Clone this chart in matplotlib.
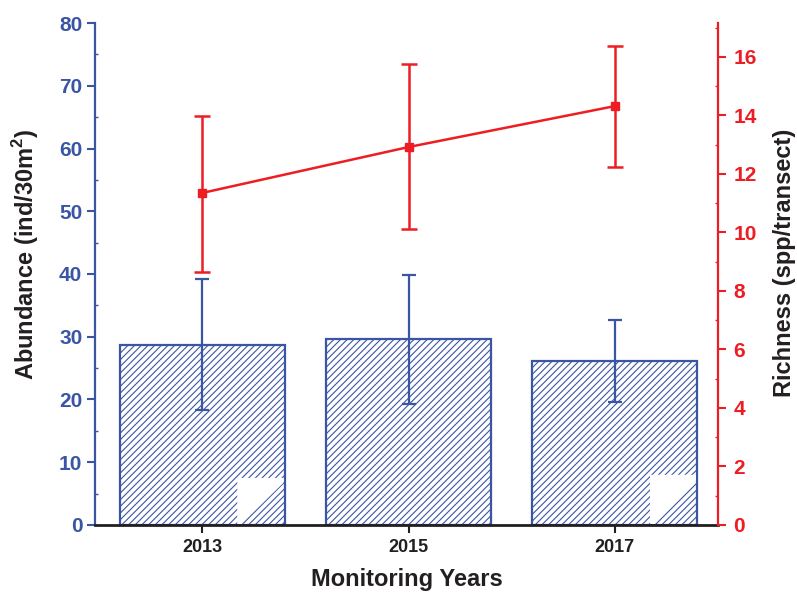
import matplotlib
matplotlib.use("Agg")
import matplotlib.pyplot as plt
from matplotlib.ticker import MultipleLocator
from matplotlib.patches import Polygon

plt.rcParams['font.family'] = ['Liberation Sans', 'DejaVu Sans']
plt.rcParams['font.weight'] = 'bold'
plt.rcParams['mathtext.fontset'] = 'custom'
plt.rcParams['mathtext.bf'] = 'Liberation Sans:bold'
plt.rcParams['mathtext.rm'] = 'Liberation Sans:bold'
plt.rcParams['hatch.linewidth'] = 0.8

years = ['2013', '2015', '2017']
abundance = [28.7, 29.6, 26.1]
abundance_err_up = [10.5, 10.2, 6.6]
abundance_err_down = [10.4, 10.3, 6.5]
richness = [11.35, 12.92, 14.32]
richness_err_up = [2.63, 2.84, 2.06]
richness_err_down = [2.70, 2.80, 2.08]

BLUE = '#3A55A4'
RED = '#EE1D23'
DARK = '#231F20'

fig = plt.figure(figsize=(7.97, 5.93), dpi=100)
ax = fig.add_axes([0.119, 0.1147, 0.782, 0.8465])
x = list(range(len(years)))

ax.bar(x, abundance, width=0.8, facecolor='white', edgecolor=BLUE,
       linewidth=1.6, hatch='/////', zorder=2)
ax.errorbar(x, abundance, yerr=[abundance_err_down, abundance_err_up], fmt='none',
            ecolor=BLUE, elinewidth=1.6, capsize=5, capthick=1.6, zorder=3)

# white patches covering the lower-right corner of the first and last bars
for xi, top in [(0, 7.5), (2, 8.0)]:
    x0, x1 = xi + 0.17, xi + 0.393
    ax.add_patch(Polygon([(x0, 0.2), (x0, top), (x1, top), (x1, top - 0.8),
                          (x0 + 0.02, 0.2)],
                         closed=True, facecolor='white', edgecolor='none',
                         zorder=2.5))

ax.set_xlim(-0.52, 2.5)
ax.set_ylim(0, 80)
ax.set_xticks(x)
ax.set_xticklabels(years, fontsize=13, fontweight='bold')
ax.yaxis.set_major_locator(MultipleLocator(10))
ax.yaxis.set_minor_locator(MultipleLocator(5))
ax.tick_params(axis='y', which='major', direction='out', length=6, width=1.5,
               colors=BLUE, labelsize=15, pad=3)
ax.tick_params(axis='y', which='minor', direction='in', length=2, width=1.0,
               colors=BLUE)
ax.tick_params(axis='x', which='major', direction='out', length=6, width=1.5,
               colors=DARK, labelsize=13, pad=4)
for lbl in ax.get_yticklabels():
    lbl.set_fontweight('bold')
ax.spines['top'].set_visible(False)
ax.spines['right'].set_visible(False)
ax.spines['left'].set_color(BLUE)
ax.spines['left'].set_linewidth(1.6)
ax.spines['bottom'].set_color(DARK)
ax.spines['bottom'].set_linewidth(2.0)
ax.set_ylabel('Abundance (ind/30m$^{\\mathbf{2}}$)', fontsize=17, fontweight='bold',
              color=DARK)
ax.yaxis.set_label_coords(-0.0856, 0.54)
ax.set_xlabel('Monitoring Years', fontsize=17, fontweight='bold', color=DARK,
              labelpad=9)

ax2 = ax.twinx()
ax2.errorbar(x, richness, yerr=[richness_err_down, richness_err_up], fmt='s-',
             color=RED, ecolor=RED, markersize=6, linewidth=1.8, elinewidth=1.8,
             capsize=6, capthick=1.8, zorder=4)
ax2.set_ylim(0, 17.16)
ax2.yaxis.set_major_locator(MultipleLocator(2))
ax2.yaxis.set_minor_locator(MultipleLocator(1))
ax2.tick_params(axis='y', which='major', direction='out', length=6, width=1.5,
                colors=RED, labelsize=15, pad=5)
ax2.tick_params(axis='y', which='minor', direction='in', length=2, width=1.0,
                colors=RED)
for lbl in ax2.get_yticklabels():
    lbl.set_fontweight('bold')
for s in ['top', 'left', 'bottom']:
    ax2.spines[s].set_visible(False)
ax2.spines['right'].set_color(RED)
ax2.spines['right'].set_linewidth(1.6)
ax2.set_ylabel('Richness (spp/transect)', fontsize=17, fontweight='bold',
               color=DARK)
ax2.yaxis.set_label_coords(1.088, 0.522)

fig.savefig('out.png', dpi=100)
